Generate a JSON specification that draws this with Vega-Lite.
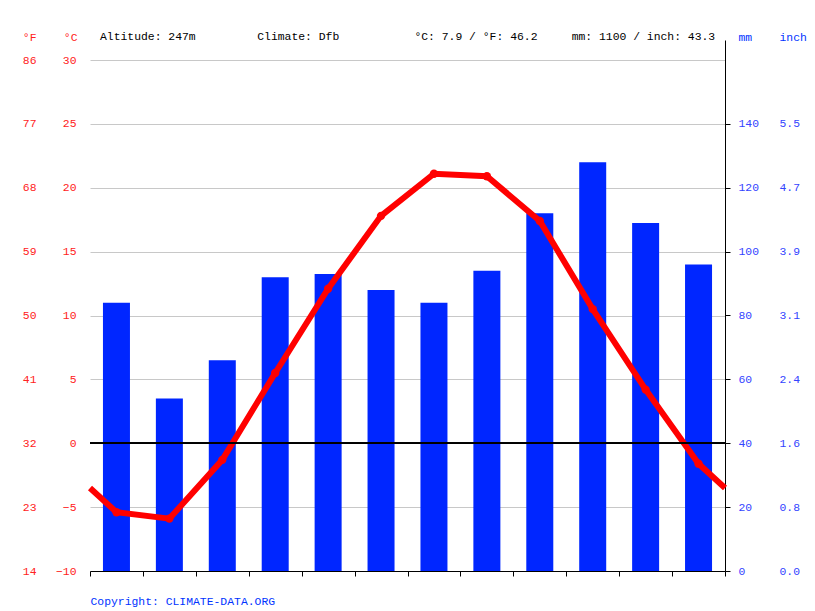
{
  "$schema": "https://vega.github.io/schema/vega-lite/v6.json",
  "width": 635,
  "height": 531,
  "autosize": "none",
  "padding": {"left": 90, "top": 40, "right": 90, "bottom": 40},
  "background": "white",
  "config": {
    "view": {"stroke": null},
    "font": "Liberation Mono",
    "axis": {"labelFont": "Liberation Mono", "labelFontSize": 11.4, "titleFont": "Liberation Mono", "titleFontSize": 11.4, "titleFontWeight": "normal"}
  },
  "title": {
    "text": "Altitude: 247m\u00a0\u00a0\u00a0\u00a0\u00a0\u00a0\u00a0\u00a0\u00a0Climate: Dfb\u00a0\u00a0\u00a0\u00a0\u00a0\u00a0\u00a0\u00a0\u00a0\u00a0\u00a0°C: 7.9 / °F: 46.2\u00a0\u00a0\u00a0\u00a0\u00a0mm: 1100 / inch: 43.3",
    "anchor": "start",
    "frame": "group",
    "font": "Liberation Mono",
    "fontSize": 11.4,
    "fontWeight": "normal",
    "color": "#000000",
    "baseline": "alphabetic",
    "offset": -20,
    "dx": 10
  },
  "data": {
    "values": [
      {"m": 0.5, "temp": -3.5, "precip": null},
      {"m": 1, "temp": -5.4, "precip": 84},
      {"m": 2, "temp": -5.9, "precip": 54},
      {"m": 3, "temp": -1.3, "precip": 66},
      {"m": 4, "temp": 5.5, "precip": 92},
      {"m": 5, "temp": 12.1, "precip": 93},
      {"m": 6, "temp": 17.8, "precip": 88},
      {"m": 7, "temp": 21.1, "precip": 84},
      {"m": 8, "temp": 20.9, "precip": 94},
      {"m": 9, "temp": 17.4, "precip": 112},
      {"m": 10, "temp": 10.5, "precip": 128},
      {"m": 11, "temp": 4.2, "precip": 109},
      {"m": 12, "temp": -1.6, "precip": 96},
      {"m": 12.5, "temp": -3.5, "precip": null}
    ]
  },
  "layer": [
    {
      "mark": {"type": "bar", "size": 27, "color": "#0026ff"},
      "encoding": {
        "x": {
          "field": "m", "type": "quantitative",
          "scale": {"domain": [0.5, 12.5], "nice": false, "zero": false, "padding": 0},
          "axis": {
            "values": [0.5, 1, 1.5, 2, 2.5, 3, 3.5, 4, 4.5, 5, 5.5, 6, 6.5, 7, 7.5, 8, 8.5, 9, 9.5, 10, 10.5, 11, 11.5, 12, 12.5],
            "labelExpr": "datum.value % 1 == 0 ? (datum.value < 10 ? '0' : '') + datum.value : ''",
            "tickOpacity": {"condition": {"test": "datum.value % 1 == 0", "value": 0}, "value": 1},
            "tickSize": 5, "tickColor": "#000000", "domainColor": "#000000",
            "labelColor": "#333333", "labelPadding": 4, "labelFlush": false, "labelOverlap": false,
            "grid": false,
            "title": "Copyright: CLIMATE-DATA.ORG", "titleColor": "#0033ff",
            "titleAnchor": "start", "titleAlign": "left", "titleX": 0, "titleY": 33, "titleBaseline": "alphabetic"
          }
        },
        "y": {
          "field": "precip", "type": "quantitative",
          "scale": {"domain": [0, 166.262], "nice": false, "zero": true},
          "axis": {
            "orient": "right", "values": [0, 20, 40, 60, 80, 100, 120, 140],
            "labelColor": "#3344ff", "tickColor": "#000000", "tickSize": 5, "domainColor": "#000000",
            "labelPadding": 8, "grid": false,
            "title": "mm", "titleColor": "#0033ff", "titleAngle": 0, "titleAlign": "left",
            "titleX": 13, "titleY": 0, "titleBaseline": "alphabetic"
          }
        }
      }
    },
    {
      "mark": {"type": "bar", "size": 27, "opacity": 0},
      "encoding": {
        "x": {"field": "m", "type": "quantitative", "scale": {"domain": [0.5, 12.5], "nice": false, "zero": false, "padding": 0}},
        "y": {
          "field": "precip", "type": "quantitative",
          "scale": {"domain": [0, 166.262], "nice": false, "zero": true},
          "axis": {
            "orient": "right", "values": [0, 20, 40, 60, 80, 100, 120, 140],
            "labelExpr": "format(datum.value / 25.4, '.1f')",
            "labelColor": "#3344ff", "ticks": false, "tickSize": 0, "domain": false,
            "labelPadding": 54, "grid": false,
            "title": "inch", "titleColor": "#0033ff", "titleAngle": 0, "titleAlign": "left",
            "titleX": 54, "titleY": 0, "titleBaseline": "alphabetic"
          }
        }
      }
    },
    {
      "mark": {"type": "point", "opacity": 0},
      "encoding": {
        "x": {"field": "m", "type": "quantitative", "scale": {"domain": [0.5, 12.5], "nice": false, "zero": false, "padding": 0}},
        "y": {
          "field": "temp", "type": "quantitative",
          "scale": {"domain": [-10, 31.5656], "nice": false, "zero": false},
          "axis": {
            "orient": "left", "values": [-10, -5, 0, 5, 10, 15, 20, 25, 30],
            "labelExpr": "format(datum.value * 9 / 5 + 32, 'd')",
            "labelColor": "#ff2222", "ticks": false, "tickSize": 0, "domain": false,
            "labelPadding": 54, "grid": false,
            "title": "°F", "titleColor": "#ff2222", "titleAngle": 0, "titleAlign": "right",
            "titleX": -54, "titleY": 0, "titleBaseline": "alphabetic"
          }
        }
      }
    },
    {
      "mark": {"type": "line", "color": "#ff0000", "strokeWidth": 6},
      "encoding": {
        "x": {"field": "m", "type": "quantitative", "scale": {"domain": [0.5, 12.5], "nice": false, "zero": false, "padding": 0}},
        "y": {
          "field": "temp", "type": "quantitative",
          "scale": {"domain": [-10, 31.5656], "nice": false, "zero": false},
          "axis": {
            "orient": "left", "values": [-10, -5, 0, 5, 10, 15, 20, 25, 30],
            "labelColor": "#ff2222", "ticks": false, "tickSize": 0, "domain": false,
            "labelPadding": 14, "grid": true, "gridColor": "#c8c8c8", "gridWidth": 1,
            "title": "°C", "titleColor": "#ff2222", "titleAngle": 0, "titleAlign": "right",
            "titleX": -13, "titleY": 0, "titleBaseline": "alphabetic"
          }
        }
      }
    },
    {
      "mark": {"type": "rule", "color": "#000000", "strokeWidth": 1},
      "encoding": {
        "y": {"datum": 0, "type": "quantitative", "scale": {"domain": [-10, 31.5656], "nice": false, "zero": false}, "axis": null}
      }
    },
    {
      "transform": [{"filter": "datum.precip != null"}],
      "mark": {"type": "circle", "color": "#ff0000", "size": 70, "opacity": 1},
      "encoding": {
        "x": {"field": "m", "type": "quantitative", "scale": {"domain": [0.5, 12.5], "nice": false, "zero": false, "padding": 0}},
        "y": {"field": "temp", "type": "quantitative", "scale": {"domain": [-10, 31.5656], "nice": false, "zero": false}, "axis": null}
      }
    }
  ],
  "resolve": {"scale": {"y": "independent"}, "axis": {"y": "independent"}}
}
